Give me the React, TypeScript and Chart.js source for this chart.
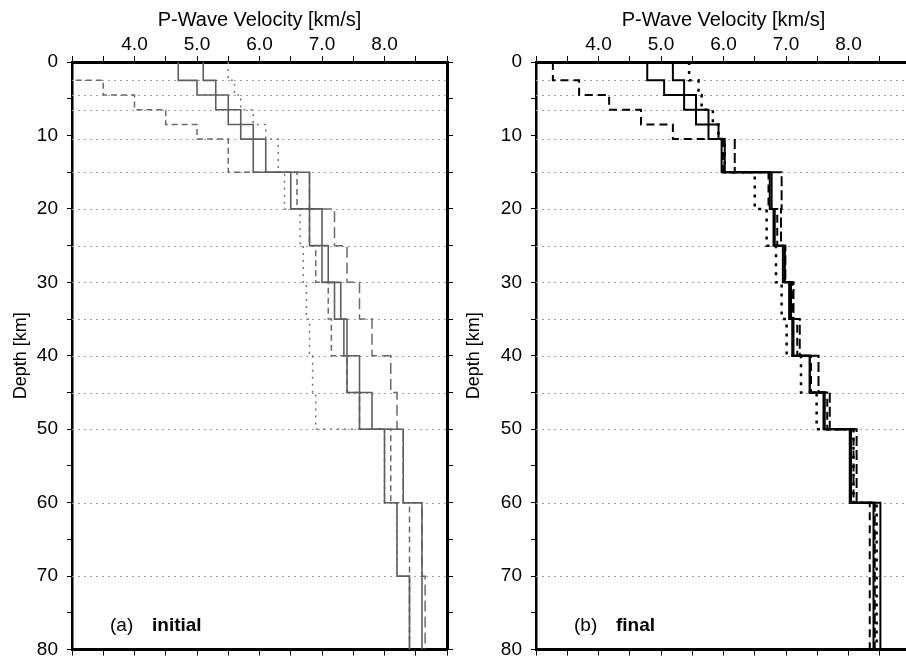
import React, { useEffect, useRef } from 'react';
import { Chart, registerables } from 'chart.js';

Chart.register(...registerables);

// ---------- data ----------
const LAYER_TOPS = [0, 2.5, 4.5, 6.5, 8.5, 10.5, 15, 20, 25, 30, 35, 40, 45, 50, 60, 70];
const MODEL_BOTTOM = 80;
const GRID_DEPTHS = [2.5, 4.5, 6.5, 10.5, 15, 20, 25, 30, 35, 40, 45, 50, 60, 70];
const X_TICK_LABELS = [4, 5, 6, 7, 8];
const Y_TICK_LABELS = [0, 10, 20, 30, 40, 50, 60, 70, 80];
const X_TITLE = 'P-Wave Velocity [km/s]';
const Y_TITLE = 'Depth [km]';
const PANEL_TAGS = ['(a)', '(b)'];
const PANEL_NAMES = ['initial', 'final'];

// (a) initial models, velocity per layer
const INITIAL_SOLID_1 = [4.7, 5.0, 5.3, 5.5, 5.7, 5.9, 6.5, 6.8, 7.0, 7.2, 7.35, 7.4, 7.6, 8.0, 8.2, 8.4];
const INITIAL_SOLID_2 = [5.1, 5.3, 5.5, 5.7, 5.9, 6.1, 6.8, 7.0, 7.1, 7.3, 7.4, 7.6, 7.8, 8.3, 8.6, 8.6];
const INITIAL_DASHED = [2.9, 3.5, 4.0, 4.5, 5.0, 5.5, 6.6, 6.8, 6.9, 7.1, 7.15, 7.4, 7.6, 8.1, 8.4, 8.4];
const INITIAL_LONGDASH = [null, null, null, null, null, null, 6.8, 7.2, 7.4, 7.6, 7.8, 8.1, 8.2, 8.3, 8.6, 8.65];
const INITIAL_DOTTED = [5.5, 5.6, 5.7, 5.9, 6.1, 6.3, 6.4, 6.65, 6.7, 6.75, 6.8, 6.85, 6.9, 8.0, 8.2, 8.4];

// (b) final models, velocity per layer
const FINAL_SOLID_1 = [4.78, 5.05, 5.37, 5.56, 5.76, 5.97, 6.77, 6.8, 6.95, 7.05, 7.1, 7.38, 7.6, 8.02, 8.4, 8.4];
const FINAL_SOLID_2 = [5.19, 5.37, 5.56, 5.76, 5.92, 6.02, 6.74, 6.82, 6.98, 7.08, 7.12, 7.38, 7.62, 8.04, 8.51, 8.51];
const FINAL_DASHED = [3.27, 3.69, 4.17, 4.68, 5.19, 5.99, 6.72, 6.86, 6.98, 7.1, 7.18, 7.4, 7.66, 8.08, 8.34, 8.34];
const FINAL_LONGDASH = [null, null, null, null, null, 6.18, 6.93, 6.92, 6.99, 7.12, 7.22, 7.52, 7.7, 8.13, 8.42, 8.42];
const FINAL_DOTTED = [5.45, 5.6, 5.65, 5.83, 5.92, 6.02, 6.5, 6.69, 6.84, 6.93, 7.01, 7.24, 7.49, 8.08, 8.45, 8.45];

// ---------- helpers ----------
const FONT_FAMILY = '"Liberation Sans", Arial, Helvetica, sans-serif';

function steps(values: (number | null)[]) {
  const pts: { x: number; y: number }[] = [];
  values.forEach((v, i) => {
    if (v === null || v === undefined) return;
    const top = LAYER_TOPS[i];
    const bottom = i + 1 < LAYER_TOPS.length ? LAYER_TOPS[i + 1] : MODEL_BOTTOM;
    pts.push({ x: v, y: top }, { x: v, y: bottom });
  });
  return pts;
}

type LineStyle = { color: string; width: number; dash: number[] };

const gridPlugin = {
  id: 'layerGrid',
  beforeDatasetsDraw(chart: any) {
    const { ctx, chartArea, scales } = chart;
    ctx.save();
    ctx.strokeStyle = '#a0a0a0';
    ctx.lineWidth = 1;
    ctx.setLineDash([2, 4]);
    GRID_DEPTHS.forEach((d) => {
      const y = Math.round(scales.y.getPixelForValue(d)) + 0.5;
      ctx.beginPath();
      ctx.moveTo(chartArea.left, y);
      ctx.lineTo(chartArea.right, y);
      ctx.stroke();
    });
    ctx.restore();
  },
};

const panelLabelPlugin = {
  id: 'panelLabel',
  afterDraw(chart: any, _args: any, opts: any) {
    const { ctx, chartArea } = chart;
    ctx.save();
    ctx.fillStyle = '#000';
    ctx.textBaseline = 'alphabetic';
    ctx.textAlign = 'left';
    const y = chartArea.bottom - 19;
    ctx.font = `19px ${FONT_FAMILY}`;
    ctx.fillText(opts.tag, chartArea.left + 38, y);
    ctx.font = `bold 19px ${FONT_FAMILY}`;
    ctx.fillText(opts.name, chartArea.left + 80, y);
    ctx.restore();
  },
};

type PanelProps = {
  left: number;
  width: number;
  yAxisWidth: number;
  rightAxisWidth: number;
  yTitlePad: number;
  tag: string;
  name: string;
  series: { values: (number | null)[]; style: LineStyle }[];
};

function Panel(p: PanelProps) {
  const ref = useRef<HTMLCanvasElement | null>(null);
  useEffect(() => {
    const font = { family: FONT_FAMILY, size: 19 };
    const chart = new Chart(ref.current as HTMLCanvasElement, {
      type: 'scatter',
      data: {
        datasets: p.series.map((s) => ({
          data: steps(s.values),
          showLine: true,
          borderColor: s.style.color,
          borderWidth: s.style.width,
          borderDash: s.style.dash,
          pointRadius: 0,
          pointHoverRadius: 0,
          tension: 0,
          xAxisID: 'x',
          yAxisID: 'y',
        })),
      },
      options: {
        animation: false,
        responsive: false,
        events: [],
        layout: { padding: 0 },
        plugins: {
          legend: { display: false },
          tooltip: { enabled: false },
          panelLabel: { tag: p.tag, name: p.name },
        } as any,
        scales: {
          x: {
            type: 'linear',
            position: 'top',
            min: 3,
            max: 9,
            ticks: {
              stepSize: 0.5,
              autoSkip: false,
              maxRotation: 0,
              color: '#000',
              font,
              padding: 0,
              callback: (v: any) => (X_TICK_LABELS.includes(Number(v)) ? Number(v).toFixed(1) : ''),
            },
            grid: { drawOnChartArea: false, drawTicks: true, tickLength: 6, tickColor: '#000', tickWidth: 1 },
            border: { display: true, color: '#000', width: 3 },
            title: { display: true, text: X_TITLE, color: '#000', font: { family: FONT_FAMILY, size: 20 }, padding: { top: 8, bottom: 0 } },
            afterFit: (s: any) => { s.height = 62; },
          },
          x2: {
            type: 'linear',
            position: 'bottom',
            min: 3,
            max: 9,
            ticks: { stepSize: 0.5, autoSkip: false, maxRotation: 0, callback: () => '' },
            grid: { drawOnChartArea: false, drawTicks: true, tickLength: 6, tickColor: '#000', tickWidth: 1 },
            border: { display: true, color: '#000', width: 3 },
            afterFit: (s: any) => { s.height = 13; },
          },
          y: {
            type: 'linear',
            position: 'left',
            reverse: true,
            min: 0,
            max: 80,
            ticks: {
              stepSize: 5,
              autoSkip: false,
              color: '#000',
              font,
              padding: 9,
              callback: (v: any) => (Y_TICK_LABELS.includes(Number(v)) ? String(v) : ''),
            },
            grid: { drawOnChartArea: false, drawTicks: true, tickLength: 5, tickColor: '#000', tickWidth: 1 },
            border: { display: true, color: '#000', width: 2.5 },
            title: { display: true, text: Y_TITLE, color: '#000', font: { family: FONT_FAMILY, size: 18 }, padding: { top: p.yTitlePad, bottom: 0 } },
            afterFit: (s: any) => { s.width = p.yAxisWidth; },
          },
          y2: {
            type: 'linear',
            position: 'right',
            reverse: true,
            min: 0,
            max: 80,
            ticks: { stepSize: 5, autoSkip: false, callback: () => '' },
            grid: { drawOnChartArea: false, drawTicks: true, tickLength: 6, tickColor: '#000', tickWidth: 1 },
            border: { display: true, color: '#000', width: 3 },
            afterFit: (s: any) => { s.width = p.rightAxisWidth; },
          },
        },
      } as any,
      plugins: [gridPlugin, panelLabelPlugin],
    });
    return () => chart.destroy();
  }, []);
  return (
    <div style={{ position: 'absolute', left: p.left, top: 0, width: p.width, height: 670 }}>
      <canvas ref={ref} width={p.width} height={670} style={{ display: 'block' }} />
    </div>
  );
}

const GRAY_SOLID: LineStyle = { color: '#5e5e5e', width: 1.6, dash: [] };
const GRAY_DASH: LineStyle = { color: '#6a6a6a', width: 1.5, dash: [6, 4] };
const GRAY_LONGDASH: LineStyle = { color: '#6a6a6a', width: 1.5, dash: [11, 5] };
const GRAY_DOT: LineStyle = { color: '#777', width: 1.5, dash: [2, 5] };
const BLACK_SOLID: LineStyle = { color: '#000', width: 2, dash: [] };
const BLACK_DASH: LineStyle = { color: '#000', width: 2, dash: [8, 5] };
const BLACK_LONGDASH: LineStyle = { color: '#000', width: 2, dash: [10, 4] };
const BLACK_DOT: LineStyle = { color: '#000', width: 2.5, dash: [3, 6] };

export default function App() {
  return (
    <div style={{ position: 'fixed', left: 0, top: 0, width: 906, height: 670, overflow: 'hidden', background: '#fff' }}>
      <Panel
        left={0}
        width={460}
        yAxisWidth={72}
        rightAxisWidth={13}
        yTitlePad={10}
        tag={PANEL_TAGS[0]}
        name={PANEL_NAMES[0]}
        series={[
          { values: INITIAL_SOLID_1, style: GRAY_SOLID },
          { values: INITIAL_SOLID_2, style: GRAY_SOLID },
          { values: INITIAL_DASHED, style: GRAY_DASH },
          { values: INITIAL_LONGDASH, style: GRAY_LONGDASH },
          { values: INITIAL_DOTTED, style: GRAY_DOT },
        ]}
      />
      <Panel
        left={460}
        width={464}
        yAxisWidth={76}
        rightAxisWidth={13}
        yTitlePad={3}
        tag={PANEL_TAGS[1]}
        name={PANEL_NAMES[1]}
        series={[
          { values: FINAL_SOLID_1, style: BLACK_SOLID },
          { values: FINAL_SOLID_2, style: BLACK_SOLID },
          { values: FINAL_DASHED, style: BLACK_DASH },
          { values: FINAL_LONGDASH, style: BLACK_LONGDASH },
          { values: FINAL_DOTTED, style: BLACK_DOT },
        ]}
      />
    </div>
  );
}
